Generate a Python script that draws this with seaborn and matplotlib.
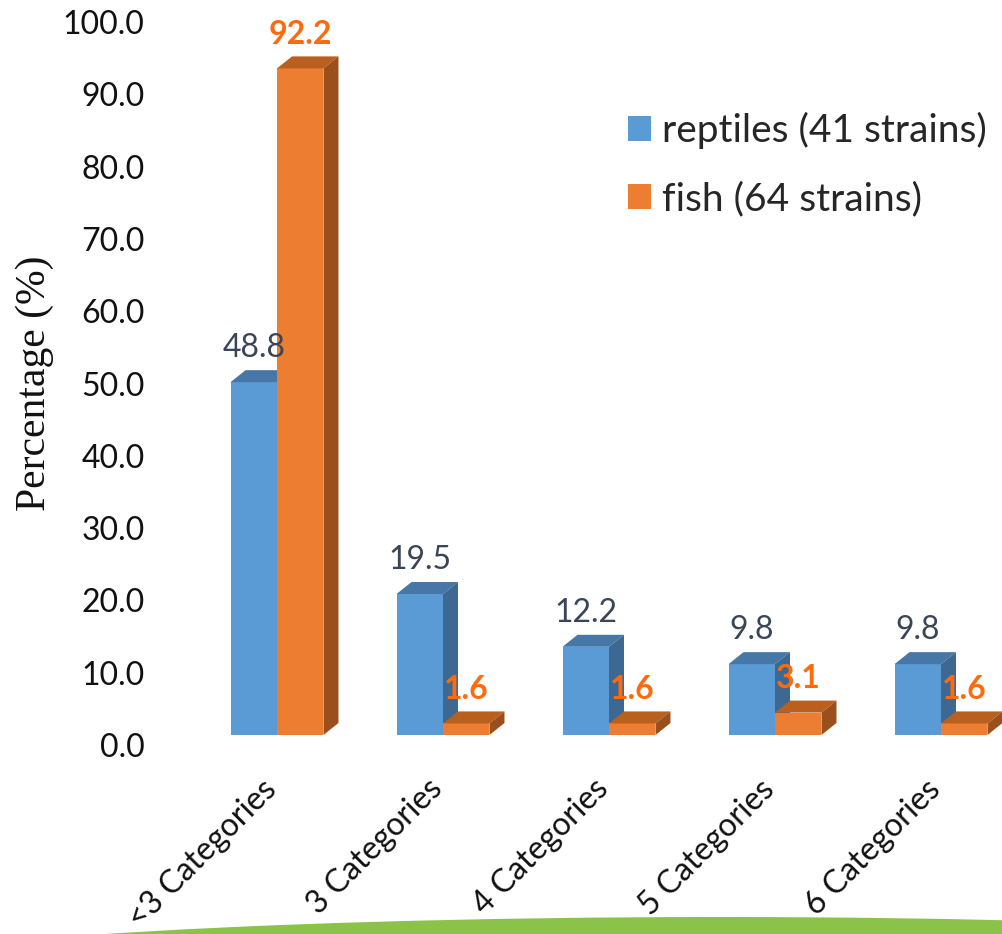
import numpy as np
import pandas as pd
import matplotlib
matplotlib.use("Agg")
import matplotlib.pyplot as plt
import matplotlib.transforms as mtransforms
from matplotlib.patches import Polygon, Ellipse, Patch
import seaborn as sns

# ---- data ----
categories = ["<3 Categories", "3 Categories", "4 Categories", "5 Categories", "6 Categories"]
series_names = ["reptiles (41 strains)", "fish (64 strains)"]
reptiles = [48.8, 19.5, 12.2, 9.8, 9.8]
fish = [92.2, 1.6, 1.6, 3.1, 1.6]
y_ticks = [0, 10, 20, 30, 40, 50, 60, 70, 80, 90, 100]

df = pd.DataFrame({
    "category": categories * 2,
    "group": [series_names[0]] * len(categories) + [series_names[1]] * len(categories),
    "pct": reptiles + fish,
})

# ---- style ----
sns.set_style("white")
plt.rcParams["font.family"] = ["Lato", "DejaVu Sans"]

front = ["#5B9BD5", "#ED7D31"]
top = ["#4677A6", "#B9601F"]
side = ["#3D6891", "#9A4F1C"]
label_colors = ["#3B4558", "#FF6A0D"]
label_weights = ["normal", "bold"]

W, H, DPI = 1002, 934, 100
fig = plt.figure(figsize=(W / DPI, H / DPI), dpi=DPI)

# axes placed in pixel terms: x from 150 px to the right edge, y=0 at 735 px, y=100 at 12 px
ax_left, ax_right = 150, 1002
y0_px, y100_px = 735, 12
ax = fig.add_axes([ax_left / W, (H - y0_px) / H, (ax_right - ax_left) / W, (y0_px - y100_px) / H])

sns.barplot(data=df, x="category", y="pct", hue="group", palette=front,
            width=0.56, gap=0, saturation=1, ax=ax, legend=False, linewidth=0)

cat_px0, cat_step = 277, 166
ax.set_xlim((ax_left - cat_px0) / cat_step, (ax_right - cat_px0) / cat_step)
ax.set_ylim(0, 100)

# depth of the pseudo-3D boxes, in pixels, converted to data units
depth_dx_px, depth_dy_px = 15, 12
p0 = ax.transData.transform((0, 0))
p1 = ax.transData.transform((1, 1))
dx = depth_dx_px / (p1[0] - p0[0])
dy = depth_dy_px / (p1[1] - p0[1])

for i, cont in enumerate(ax.containers):
    z = 2 + i
    for bar in cont:
        bar.set_zorder(z)
        x0, w, h = bar.get_x(), bar.get_width(), bar.get_height()
        ax.add_patch(Polygon([(x0, h), (x0 + w, h), (x0 + w + dx, h + dy), (x0 + dx, h + dy)],
                             closed=True, facecolor=top[i], edgecolor="none", zorder=z, clip_on=False))
        ax.add_patch(Polygon([(x0 + w, 0), (x0 + w + dx, dy), (x0 + w + dx, h + dy), (x0 + w, h)],
                             closed=True, facecolor=side[i], edgecolor="none", zorder=z, clip_on=False))
        ax.annotate(f"{h:.1f}", xy=(x0 + w / 2, h), xytext=(0, 34), textcoords="offset pixels",
                    ha="center", va="center", fontsize=23, color=label_colors[i],
                    fontweight=label_weights[i], zorder=10, annotation_clip=False)

# axes decoration
sns.despine(ax=ax, left=True, bottom=True)
ax.set_yticks(y_ticks)
ax.set_yticklabels([f"{v:.1f}" for v in y_ticks], fontsize=23, color="#111111")
ax.tick_params(axis="both", length=0)
ax.tick_params(axis="y", pad=4)
shift = mtransforms.ScaledTranslation(0, -10 / DPI, fig.dpi_scale_trans)
for lab in ax.get_yticklabels():
    lab.set_transform(lab.get_transform() + shift)

ax.set_xlabel("")
ax.set_xticks(range(len(categories)))
ax.set_xticklabels(categories, rotation=45, ha="right", va="top",
                   rotation_mode="anchor", fontsize=23, color="#111111")
ax.tick_params(axis="x", pad=28)
xshift = mtransforms.ScaledTranslation(-16 / DPI, 0, fig.dpi_scale_trans)
for lab in ax.get_xticklabels():
    lab.set_transform(lab.get_transform() + xshift)

ax.set_ylabel("Percentage (%)", family="Liberation Serif", fontsize=30, color="#111111", va="center")
ax.yaxis.set_label_coords((35 - ax_left) / (ax_right - ax_left), (y0_px - 383) / (y0_px - y100_px))

handles = [Patch(facecolor=front[i], edgecolor="none", label=series_names[i]) for i in range(2)]
fig.legend(handles=handles, loc="upper left", bbox_to_anchor=(628 / W, (H - 112) / H),
           bbox_transform=fig.transFigure, frameon=False, fontsize=28,
           handlelength=0.59, handleheight=0.59, handletextpad=0.28,
           labelspacing=0.82, borderpad=0, borderaxespad=0)

# green ground arc along the bottom edge
fig.add_artist(Ellipse((720 / W, -46 / H), 1800 / W, 126 / H, transform=fig.transFigure,
                       facecolor="#8BC34A", edgecolor="none", zorder=-1))

fig.savefig("out.png", dpi=DPI)
